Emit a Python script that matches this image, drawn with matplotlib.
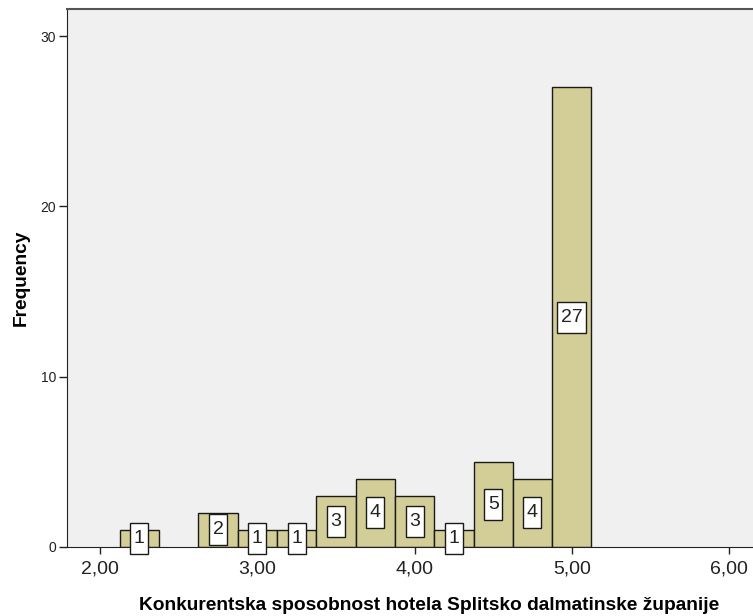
import matplotlib.pyplot as plt
import matplotlib.transforms as mtransforms
from matplotlib.patches import Rectangle

# bin centres (width 0.25) and counts
centres = [2.25, 2.75, 3.00, 3.25, 3.50, 3.75, 4.00, 4.25, 4.50, 4.75, 5.00]
counts = [1, 2, 1, 1, 3, 4, 3, 1, 5, 4, 27]
bin_width = 0.25

x_ticks = [2.0, 3.0, 4.0, 5.0, 6.0]
x_ticklabels = ["2,00", "3,00", "4,00", "5,00", "6,00"]
y_ticks = [0, 10, 20, 30]

plt.rcParams["font.family"] = ["Liberation Sans", "DejaVu Sans"]

fig = plt.figure(figsize=(7.53, 6.16), dpi=100)
ax = fig.add_axes([67 / 753, 1 - 547 / 616, 1 - 67 / 753 + 0.01, (547 - 9) / 616])
ax.set_facecolor("#f0f0f0")

ax.bar(centres, counts, width=bin_width, color="#d3ce97", edgecolor="#1a1a1a",
       linewidth=1.0, zorder=2)

# value boxes: fixed height, width depends on the number of digits
for c, n in zip(centres, counts):
    s = str(n)
    w = (7 + 11 * len(s)) / 100.0
    h = 31 / 100.0
    trans = fig.dpi_scale_trans + mtransforms.ScaledTranslation(c, n / 2, ax.transData)
    ax.add_patch(Rectangle((-w / 2, -h / 2), w, h, transform=trans, facecolor="white",
                           edgecolor="#1a1a1a", linewidth=1.0, zorder=3, clip_on=False))
    ax.text(c, n / 2, s, ha="center", va="center", fontsize=14, color="#222222",
            zorder=4)

ax.set_xlim(1.79, 6.2)
ax.set_ylim(0, 31.6)
ax.set_xticks(x_ticks)
ax.set_xticklabels(x_ticklabels)
ax.set_yticks(y_ticks)
ax.tick_params(axis="x", labelsize=14, colors="#222222", length=5, width=1, pad=5)
ax.tick_params(axis="y", labelsize=10, colors="#222222", length=6, width=1, pad=2)

for side in ["top", "right"]:
    ax.spines[side].set_visible(False)
for side in ["left", "bottom"]:
    ax.spines[side].set_color("#222222")
ax.plot([0, 1], [1, 1], transform=ax.transAxes, color="#555555", linewidth=1.5,
        clip_on=False, zorder=5)

ax.set_xlabel("Konkurentska sposobnost hotela Splitsko dalmatinske županije",
              fontsize=13.8, fontweight="bold", va="center")
ax.xaxis.set_label_coords(0.5227, -0.108)
ax.set_ylabel("Frequency", fontsize=13.8, fontweight="bold", va="center")
ax.yaxis.set_label_coords(-0.066, 0.5)

fig.savefig("out.png", dpi=100)
